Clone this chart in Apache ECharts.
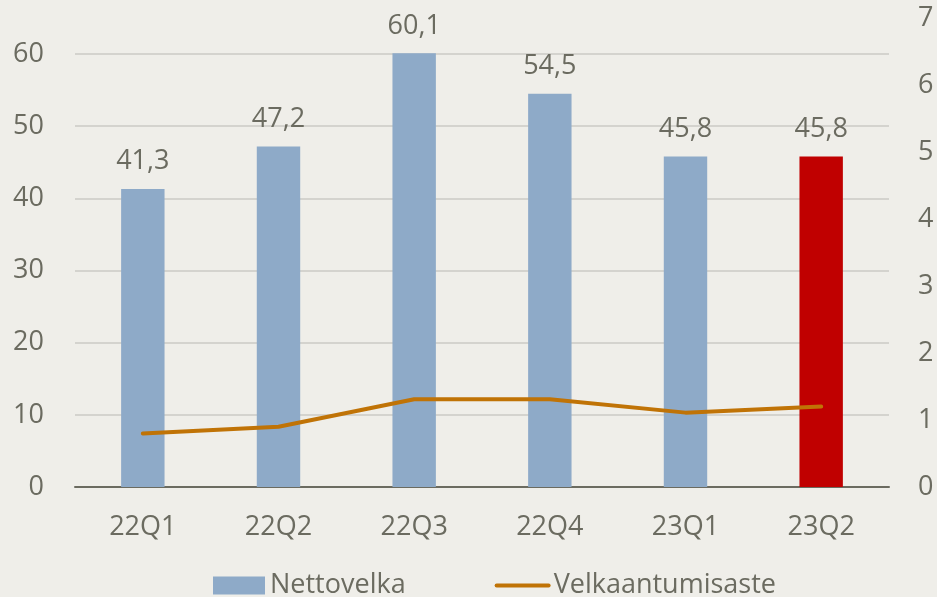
<!DOCTYPE html>
<html>
<head>
<meta charset="utf-8">
<script src="https://cdn.jsdelivr.net/npm/echarts@6/dist/echarts.min.js"></script>
<style>
  html, body { margin: 0; padding: 0; background: #efeee9; }
  #chart { width: 937px; height: 597px; }
</style>
</head>
<body>
<div id="chart"></div>
<script>
// data
const quarters = ['22Q1', '22Q2', '22Q3', '22Q4', '23Q1', '23Q2'];
const nettovelka = [41.3, 47.2, 60.1, 54.5, 45.8, 45.8];
const velkaantumisaste = [0.80, 0.90, 1.31, 1.31, 1.11, 1.20];

const textColor = '#6b6b60';
const font = '"Open Sans", sans-serif';
const lineColor = '#c07306';
const comma = v => String(v).replace('.', ',');

const chart = echarts.init(document.getElementById('chart'));

chart.setOption({
  backgroundColor: '#efeee9',
  animation: false,
  textStyle: { fontFamily: font },
  grid: { left: 75, right: 48, top: 18, bottom: 110 },
  legend: {
    bottom: -2,
    left: 213,
    padding: 0,
    itemWidth: 52,
    itemHeight: 18,
    itemGap: 89,
    textStyle: { color: textColor, fontSize: 27, fontFamily: font },
    data: [
      { name: 'Nettovelka', icon: 'rect' },
      {
        name: 'Velkaantumisaste',
        itemStyle: { opacity: 0 },
        lineStyle: { width: 4, color: lineColor, cap: 'round' }
      }
    ]
  },
  xAxis: {
    type: 'category',
    data: quarters,
    axisLine: { lineStyle: { color: '#6b6b60', width: 2 } },
    axisTick: { show: false },
    axisLabel: { color: textColor, fontSize: 27, margin: 27, fontFamily: font }
  },
  yAxis: [
    {
      type: 'value',
      min: 0,
      max: 65,
      interval: 10,
      axisLine: { show: false },
      axisTick: { show: false },
      axisLabel: { color: textColor, fontSize: 27, margin: 31, showMaxLabel: false, fontFamily: font },
      splitLine: { showMaxLine: false, lineStyle: { color: '#d4d3ce', width: 2 } }
    },
    {
      type: 'value',
      min: 0,
      max: 7,
      interval: 1,
      axisLine: { show: false },
      axisTick: { show: false },
      axisLabel: { color: textColor, fontSize: 27, margin: 29, fontFamily: font },
      splitLine: { show: false }
    }
  ],
  series: [
    {
      name: 'Nettovelka',
      type: 'bar',
      barWidth: '32%',
      itemStyle: { color: '#8eaac8' },
      data: nettovelka.map((v, i) => i === nettovelka.length - 1
        ? { value: v, itemStyle: { color: '#c00000' } }
        : v),
      label: {
        show: true,
        position: 'top',
        distance: 14,
        color: textColor,
        fontSize: 27,
        fontFamily: font,
        formatter: p => comma(p.value)
      }
    },
    {
      name: 'Velkaantumisaste',
      type: 'line',
      yAxisIndex: 1,
      data: velkaantumisaste,
      symbol: 'none',
      lineStyle: { color: lineColor, width: 4, cap: 'round' },
      itemStyle: { color: lineColor }
    }
  ]
});
</script>
</body>
</html>
